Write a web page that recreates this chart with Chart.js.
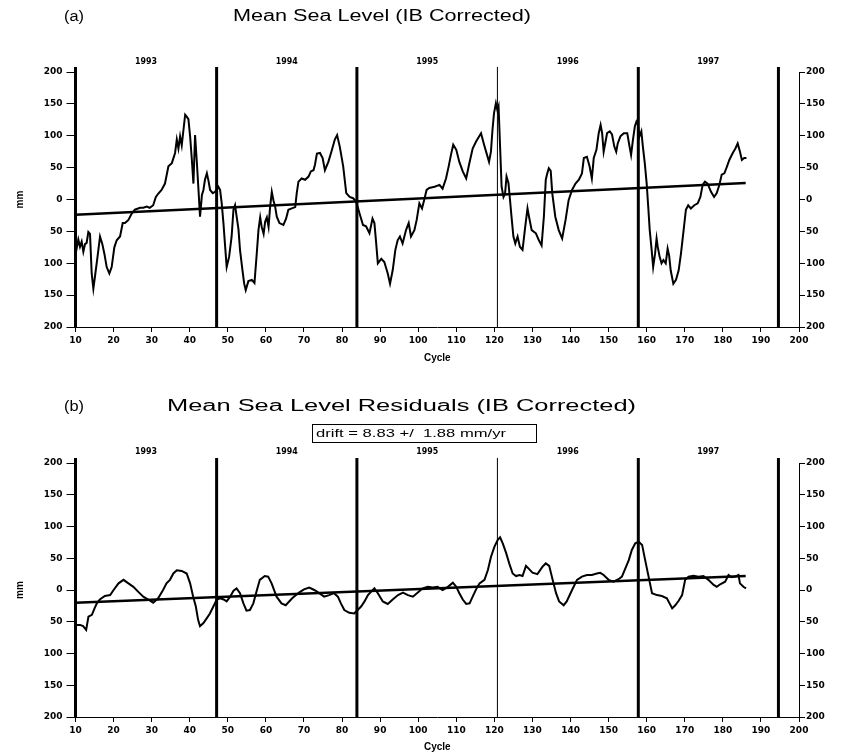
<!DOCTYPE html>
<html><head><meta charset="utf-8">
<script src="https://cdn.jsdelivr.net/npm/chart.js@4.4.0/dist/chart.umd.min.js"></script>
<style>
html,body{margin:0;padding:0;background:#fff;overflow:hidden}
#w{position:relative;width:846px;height:752px;background:#fff}
canvas{position:absolute;left:0}
</style></head><body>
<div id="w">
<canvas id="ca" width="846" height="376" style="top:0"></canvas>
<canvas id="cb" width="846" height="376" style="top:376px"></canvas>
</div>
<script>
// ---------- data ----------
const mslCycles = [10.0,10.2,10.75,11.18,11.62,12.06,12.5,12.93,13.37,13.81,14.25,14.69,15.13,15.74,16.44,17.05,17.58,18.19,18.89,19.5,20.2,20.82,21.7,22.4,23.0,23.9,24.76,25.6,26.95,27.8,28.7,29.5,30.4,31.1,31.7,32.6,33.5,34.4,35.3,36.15,36.6,37.03,37.47,37.9,38.35,38.8,39.2,39.65,40.1,40.5,40.97,41.4,41.85,42.3,42.7,43.2,43.6,44.0,44.5,44.9,45.35,46.05,46.66,47.5,47.97,48.4,48.85,49.3,49.7,50.34,51.0,51.48,51.9,52.35,52.8,53.2,53.85,54.3,54.7,55.4,56.3,57.0,57.6,58.05,58.5,58.9,59.4,59.8,60.25,60.7,61.1,61.55,62.0,62.4,62.86,63.56,64.6,65.3,65.9,66.8,67.7,68.1,68.55,69.4,70.3,71.2,71.8,72.5,72.9,73.4,74.2,74.9,75.5,76.4,77.2,78.1,78.7,79.4,80.3,81.1,82.0,82.9,83.7,84.6,85.5,86.3,87.2,88.0,88.5,88.9,89.4,90.3,91.1,92.0,92.6,93.3,94.0,94.6,95.2,95.9,96.8,97.5,98.1,99.0,99.6,100.3,101.0,101.6,102.2,102.9,104.3,105.6,106.4,107.3,108.0,108.6,109.2,110.0,110.8,111.7,112.6,113.4,114.3,115.2,116.5,117.3,118.6,119.1,119.5,119.9,120.4,120.8,121.1,121.5,121.9,122.4,122.8,123.2,123.7,124.1,124.5,125.0,125.5,126.1,126.7,127.4,128.1,128.7,129.1,129.8,130.9,131.7,132.4,133.0,133.5,133.9,134.3,134.8,135.2,136.0,136.9,137.8,138.7,139.5,140.4,141.3,142.2,143.0,143.5,144.3,145.0,145.6,146.1,146.8,147.4,147.9,148.3,148.7,149.2,149.6,150.3,150.9,151.5,152.0,152.4,153.1,154.0,154.9,155.5,155.9,156.4,156.9,157.3,157.7,158.1,158.6,159.0,159.5,160.0,160.4,160.8,161.3,161.7,162.2,162.6,162.9,163.4,163.9,164.4,165.0,165.5,165.9,166.3,167.0,167.7,168.4,169.0,169.7,170.3,170.9,171.6,172.5,173.4,174.1,174.7,175.3,176.0,176.9,177.7,178.4,179.1,179.7,180.4,181.1,181.7,182.6,183.3,183.9,184.5,185.0,185.6,186.2];
const mslValues = [-5,-80,-63,-74,-66,-82,-70,-68,-51,-54,-116,-140,-120,-92,-58,-70,-85,-106,-116,-106,-75,-64,-58,-37,-37,-32,-22,-16,-13,-13,-11,-13,-9,4,9,15,25,52,57,73,94,80,99,85,109,133,130,126,99,67,25,101,60,15,-27,7,15,31,41,30,15,10,12,20,15,-6,-37,-74,-106,-90,-58,-16,-9,-28,-47,-79,-111,-132,-142,-128,-126,-131,-85,-48,-28,-43,-54,-35,-28,-43,-12,12,-2,-10,-27,-37,-40,-30,-16,-14,-12,10,28,33,31,36,44,46,55,72,73,65,46,59,75,94,101,83,52,10,4,2,-3,-22,-40,-42,-53,-30,-37,-64,-100,-93,-98,-116,-132,-111,-79,-64,-58,-69,-48,-37,-58,-48,-32,-6,-14,0,15,18,20,23,17,33,52,70,86,78,59,44,33,56,80,91,104,86,59,75,109,135,151,140,146,83,20,4,9,36,26,0,-27,-58,-69,-58,-74,-79,-43,-14,-27,-48,-53,-64,-72,-27,31,41,49,45,10,-27,-48,-61,-32,-1,15,25,31,41,65,67,52,33,65,78,104,117,104,75,91,104,107,102,83,75,88,99,104,104,83,70,94,115,122,117,99,107,83,57,25,-11,-48,-79,-106,-85,-61,-74,-90,-100,-95,-100,-77,-88,-111,-132,-126,-111,-85,-48,-16,-9,-14,-9,-6,4,23,28,25,12,4,10,23,39,41,52,62,73,80,88,75,62,65,65];

const resCycles = [10.0,10.1,11.2,12.0,12.8,13.4,14.3,15.0,15.6,16.4,17.7,19.1,20.0,21.3,22.6,23.9,25.2,26.5,27.8,29.1,30.4,31.7,33.0,33.9,34.8,35.7,36.6,37.9,39.2,40.1,40.9,41.6,42.2,42.7,43.6,44.4,45.3,46.2,47.1,48.0,48.9,49.7,50.6,51.5,52.3,53.2,54.1,54.9,55.8,56.7,57.5,58.4,59.7,60.6,61.5,62.8,64.1,65.2,66.9,68.7,70.0,71.4,72.7,74.0,75.3,76.6,77.9,78.9,79.7,80.6,81.9,83.2,84.1,85.0,85.9,86.8,87.6,88.5,89.4,90.7,92.0,93.3,94.7,96.0,97.3,98.6,99.9,101.2,102.5,103.8,105.1,106.4,107.8,109.1,110.0,110.8,111.7,112.6,113.5,114.3,115.2,116.1,117.4,118.3,119.1,120.0,120.9,121.5,122.2,123.1,123.9,124.8,125.7,126.6,127.4,128.3,129.2,130.0,131.3,132.7,133.5,134.4,135.3,136.2,137.0,138.2,139.0,140.4,141.7,143.0,144.3,145.6,146.9,147.8,148.7,150.0,151.3,152.6,153.5,154.4,155.3,156.1,157.0,157.9,158.8,159.6,160.5,161.4,162.7,164.0,165.3,166.7,167.5,168.4,169.3,170.1,171.0,172.3,173.6,174.9,176.2,177.6,178.4,179.3,180.6,181.5,182.3,183.2,184.1,184.5,185.4,186.1];
const resValues = [-37,-55,-55,-57,-63,-42,-39,-29,-21,-15,-9.5,-8,0,10.5,16,10.5,5,-3,-10.5,-15,-20,-13,0,10.5,16,26,31,30,26,10.5,-10.5,-26,-47,-57,-52,-45,-37,-26,-15,-13,-15,-18,-10.5,-1,2.6,-5,-21,-32.5,-31.5,-21,-3,16,22,21,10.5,-10.5,-21,-24,-13,-4,1,3.7,0,-5,-10.5,-8,-5,-10.5,-21,-31.5,-36,-37,-31.5,-26,-18,-8,-3,2.6,-5,-18,-22,-15,-8,-4,-8,-10.5,-4,2.6,5,4,5,0,5,11.5,5,-5,-15,-22,-21,-10.5,1,10.5,16,31.5,52,68,79,83,73.5,58,42,26,22,23.6,22,38,32.5,27.3,25,37,42,38,16,-5,-18,-24,-18,0,16,21,23.6,23.6,26,27,23.6,16,13,17,21,34,47,63,73.5,76,71,47,21,-5,-8,-9.5,-13,-29,-24,-17,-8,16,21,22.5,21,22,16,8,5,9,13,23.6,20,21,23.6,10.5,5,2.6];

const trendCycles = [10, 186];
const mslTrend = [-24, 26];
const resTrend = [-20, 22];

const yearBounds = [10, 47.06, 83.9, 120.8, 157.8, 194.6];
const yearWidths = [3, 3, 3, 1, 3, 3];
const yearLabels = ['1993','1994','1995','1996','1997'];

// ---------- helpers ----------
function pts(xs, ys){ return xs.map((x,i)=>({x:x, y:ys[i]})); }

function stretchText(ctx, text, x, y, width, font, align){
  ctx.save();
  ctx.font = font; ctx.fillStyle = '#000'; ctx.textBaseline = 'middle'; ctx.textAlign = align || 'left';
  const w = ctx.measureText(text).width;
  ctx.translate(x, y); ctx.scale(width / w, 1);
  ctx.fillText(text, 0, 0);
  ctx.restore();
}

const tickFont = {family:'DejaVu Sans', size:9, weight:'bold'};

function buildChart(canvas, o){
  const datasets = [
    {data: pts(o.cycles, o.values), borderColor:'#000', borderWidth:2, pointRadius:0, tension:0, fill:false},
    {data: pts(trendCycles, o.trend), borderColor:'#000', borderWidth:2.6, pointRadius:0, tension:0, fill:false}
  ];
  yearBounds.forEach((c,i)=>{
    datasets.push({data:[{x:c,y:-200},{x:c,y:208}], borderColor:'#000', borderWidth:yearWidths[i], pointRadius:0, clip:false, fill:false});
  });
  const textPlugin = {
    id:'txt',
    afterDraw(chart){
      const ctx = chart.ctx, xs = chart.scales.x;
      o.texts(ctx);
      for(let i=0;i<yearLabels.length;i++){
        const mid = (xs.getPixelForValue(yearBounds[i]) + xs.getPixelForValue(yearBounds[i+1]))/2;
        stretchText(ctx, yearLabels[i], mid, o.yearY, 22, 'bold 8px "DejaVu Sans"', 'center');
      }
    }
  };
  return new Chart(canvas, {
    type:'line',
    data:{datasets},
    plugins:[textPlugin],
    options:{
      responsive:false, animation:false, events:[],
      layout:{padding:{top:o.areaTop, left:0, right:0, bottom:0}},
      plugins:{legend:{display:false}, tooltip:{enabled:false}, title:{display:false}},
      scales:{
        x:{type:'linear', min:10, max:200, position:'bottom',
          afterFit(s){ s.height = o.xH; },
          border:{display:true, color:'#000', width:1},
          grid:{drawOnChartArea:false, drawTicks:true, tickLength:5, color:'#000'},
          ticks:{stepSize:10, autoSkip:false, maxRotation:0, color:'#000', font:tickFont, padding:3, callback:v=>String(v)},
          title:{display:true, text:'Cycle', color:'#000', font:{family:'Liberation Sans', size:10, weight:'bold', lineHeight:1}, padding:{top:0, bottom:o.cyclePad}}
        },
        y:{type:'linear', min:-200, max:200, position:'left',
          afterFit(s){ s.width = 75.5; },
          border:{display:true, color:'#000', width:1},
          grid:{drawOnChartArea:false, drawTicks:true, tickLength:9, color:'#000'},
          ticks:{stepSize:50, color:'#000', font:tickFont, padding:4, callback:v=>String(Math.abs(v))},
          title:{display:true, text:'mm', color:'#000', font:{family:'Liberation Sans', size:10, weight:'bold', lineHeight:1}, padding:{top:15, bottom:0}}
        },
        y2:{type:'linear', min:-200, max:200, position:'right',
          afterFit(s){ s.width = 47; },
          border:{display:true, color:'#000', width:1},
          grid:{drawOnChartArea:false, drawTicks:true, tickLength:6, color:'#000'},
          ticks:{stepSize:50, color:'#000', font:tickFont, padding:1, callback:v=>String(Math.abs(v))}
        }
      }
    }
  });
}

buildChart(document.getElementById('ca'), {
  cycles: mslCycles, values: mslValues, trend: mslTrend,
  areaTop:72, xH:49, cyclePad:13, yearY:62,
  texts(ctx){
    stretchText(ctx, '(a)', 64, 17, 20, '14px "Liberation Sans"', 'left');
    stretchText(ctx, 'Mean Sea Level (IB Corrected)', 233, 17, 298, '16px "Liberation Sans"', 'left');
  }
});

buildChart(document.getElementById('cb'), {
  cycles: resCycles, values: resValues, trend: resTrend,
  areaTop:87, xH:35, cyclePad:0, yearY:76,
  texts(ctx){
    stretchText(ctx, '(b)', 64, 31, 20, '14px "Liberation Sans"', 'left');
    stretchText(ctx, 'Mean Sea Level Residuals (IB Corrected)', 167, 31, 469, '16px "Liberation Sans"', 'left');
    ctx.save(); ctx.strokeStyle='#000'; ctx.lineWidth=1;
    ctx.strokeRect(312.5, 48.5, 224, 18);
    ctx.restore();
    stretchText(ctx, 'drift = 8.83 +/  1.88 mm/yr', 316, 57.5, 190, '11px "Liberation Sans"', 'left');
  }
});
</script>
</body></html>
